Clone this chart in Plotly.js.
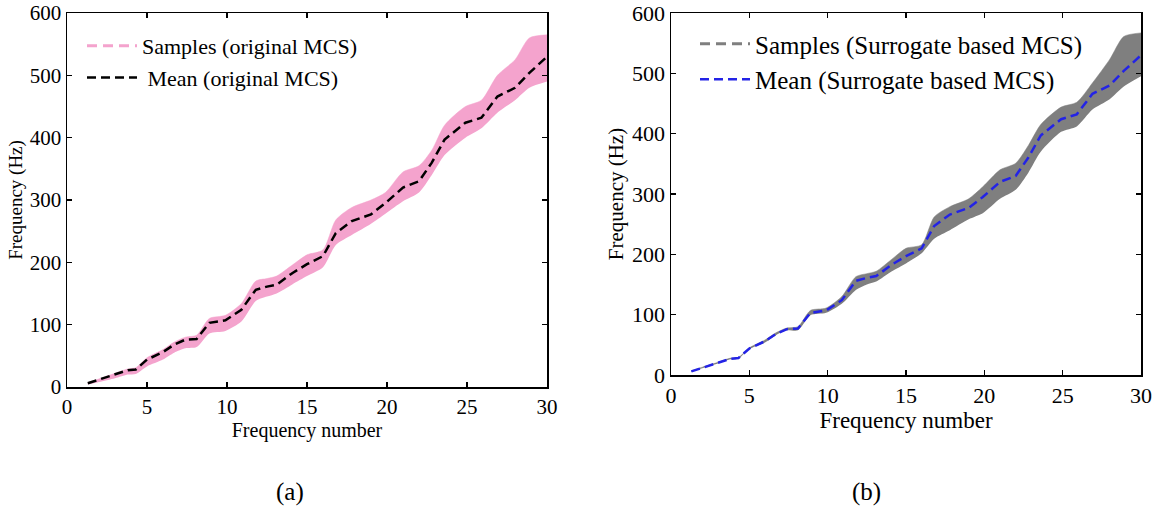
<!DOCTYPE html>
<html>
<head>
<meta charset="utf-8">
<script src="https://cdn.plot.ly/plotly-3.0.1.min.js"></script>
<style>html,body{margin:0;padding:0;background:#fff;}#chart{width:1159px;height:512px;}</style>
</head>
<body>
<div id="chart"></div>
<script>
// Frequency number positions
const freqNumber = [1.3, 2, 3, 3.8, 4.3, 5, 6, 6.7, 7.4, 8.1, 8.9, 9.9, 10.9, 11.8, 12.5, 13.1, 14.1, 15, 16, 16.8, 17.8, 19, 19.9, 21, 22, 22.8, 23.6, 24.9, 25.9, 26.9, 28, 28.9, 30];
// (a) original MCS
const meanOriginal  = [6, 12, 20, 27, 28, 44, 56, 68, 76, 77, 103, 107, 124, 156, 161, 164, 183, 197, 210, 247, 266, 277, 295, 320, 330, 360, 397, 424, 432, 466, 480, 504, 530];
const upperOriginal = [7, 13, 22, 29, 31, 47, 60, 72, 80, 83, 110, 115, 134, 170, 174, 178, 196, 212, 220, 268, 288, 300, 312, 345, 355, 380, 420, 450, 460, 500, 525, 560, 565];
const lowerOriginal = [4, 8, 14, 20, 21, 33, 44, 55, 62, 64, 86, 90, 105, 138, 145, 150, 165, 178, 192, 228, 244, 262, 278, 298, 312, 340, 372, 400, 415, 440, 460, 480, 490];
// (b) surrogate based MCS
const meanSurrogate  = [6, 12, 20, 27, 28, 44, 56, 68, 76, 77, 103, 107, 124, 156, 161, 164, 183, 197, 210, 247, 266, 277, 295, 320, 330, 360, 397, 424, 432, 466, 480, 504, 530];
const upperSurrogate = [7, 13, 21, 28, 29, 45, 58, 70, 78, 80, 107, 111, 130, 163, 168, 172, 192, 210, 216, 262, 279, 292, 312, 340, 351, 380, 415, 444, 452, 484, 523, 561, 567];
const lowerSurrogate = [5, 11, 19, 26, 27, 43, 54, 66, 74, 74, 99, 103, 118, 141, 150, 155, 172, 185, 202, 226, 240, 258, 268, 292, 307, 335, 370, 403, 412, 440, 457, 478, 495];

const xTicks = [0, 5, 10, 15, 20, 25, 30];
const yTicks = [0, 100, 200, 300, 400, 500, 600];

const pink = '#f4a3cd', gray = '#7f7f7f', blue = '#2323e6';
const serif = 'Liberation Serif';

const traces = [
  {x: freqNumber, y: lowerOriginal, xaxis:'x', yaxis:'y', mode:'lines', line:{width:0, color:pink, shape:'spline', smoothing:0.7}, showlegend:false, hoverinfo:'skip'},
  {x: freqNumber, y: upperOriginal, xaxis:'x', yaxis:'y', mode:'lines', line:{width:0.5, color:pink, shape:'spline', smoothing:0.7}, fill:'tonexty', fillcolor:pink, showlegend:false, hoverinfo:'skip'},
  {x: [null], y: [null], xaxis:'x', yaxis:'y', mode:'lines', name:'Samples (original MCS)', line:{color:pink, width:3, dash:'10px,6px'}, legend:'legend', legendgroup:'a1'},
  {x: freqNumber, y: meanOriginal, xaxis:'x', yaxis:'y', mode:'lines', name:' Mean (original MCS)', line:{color:'#000', width:2.5, dash:'9px,5px'}, legend:'legend', legendgroup:'a2'},

  {x: freqNumber, y: lowerSurrogate, xaxis:'x2', yaxis:'y2', mode:'lines', line:{width:0, color:gray, shape:'spline', smoothing:0.7}, showlegend:false, hoverinfo:'skip'},
  {x: freqNumber, y: upperSurrogate, xaxis:'x2', yaxis:'y2', mode:'lines', line:{width:0.5, color:gray, shape:'spline', smoothing:0.7}, fill:'tonexty', fillcolor:gray, showlegend:false, hoverinfo:'skip'},
  {x: [null], y: [null], xaxis:'x2', yaxis:'y2', mode:'lines', name:'Samples (Surrogate based MCS)', line:{color:gray, width:3, dash:'10px,6px'}, legend:'legend2', legendgroup:'b1'},
  {x: freqNumber, y: meanSurrogate, xaxis:'x2', yaxis:'y2', mode:'lines', name:'Mean (Surrogate based MCS)', line:{color:blue, width:2.5, dash:'9px,5px'}, legend:'legend2', legendgroup:'b2'}
];

function xa(domain, anchor, tf, ttf){
  return {domain: domain, anchor: anchor, range:[0,30], tickvals:xTicks, ticks:'inside', ticklen:5, tickwidth:1.5, tickcolor:'#000',
    showline:true, linecolor:'#000', linewidth:1.5, mirror:'ticks', showgrid:false, zeroline:false,
    tickfont:{family:serif, size:tf, color:'#000'},
    title:{text:'Frequency number', font:{family:serif, size:ttf, color:'#000'}, standoff:0}};
}
function ya(domain, anchor, tf, ttf){
  return {domain: domain, anchor: anchor, range:[0,600], tickvals:yTicks, ticks:'inside', ticklen:5, tickwidth:1.5, tickcolor:'#000',
    showline:true, linecolor:'#000', linewidth:1.5, mirror:'ticks', showgrid:false, zeroline:false,
    tickfont:{family:serif, size:tf, color:'#000'},
    title:{text:'Frequency (Hz)', font:{family:serif, size:ttf, color:'#000'}, standoff:2}};
}

const legendCommon = {bgcolor:'rgba(0,0,0,0)', borderwidth:0,
  traceorder:'grouped', xanchor:'left', yanchor:'top', itemwidth:50, tracegroupgap:0};

const layout = {
  width:1159, height:512, margin:{l:0, r:0, t:0, b:0},
  paper_bgcolor:'#fff', plot_bgcolor:'#fff',
  xaxis: xa([67/1159, 547/1159], 'y', 21, 20),
  yaxis: ya([125/512, 499/512], 'x', 21, 19),
  xaxis2: xa([671/1159, 1141/1159], 'y2', 22, 23),
  yaxis2: ya([137/512, 499/512], 'x2', 22, 21),
  legend: Object.assign({}, legendCommon, {x: 82/1159, y: 1 - 25/512, font:{family:serif, size:22, color:'#000'}}),
  legend2: Object.assign({}, legendCommon, {x: 695/1159, y: 1 - 21/512, font:{family:serif, size:25, color:'#000'}}),
  annotations: [
    {text:'(a)', xref:'paper', yref:'paper', x:290/1159, y:1-492/512, xanchor:'center', yanchor:'middle', showarrow:false, font:{family:serif, size:25, color:'#000'}},
    {text:'(b)', xref:'paper', yref:'paper', x:866/1159, y:1-492/512, xanchor:'center', yanchor:'middle', showarrow:false, font:{family:serif, size:25, color:'#000'}}
  ],
  showlegend:true
};

Plotly.newPlot('chart', traces, layout, {displayModeBar:false, staticPlot:true});
</script>
</body>
</html>
